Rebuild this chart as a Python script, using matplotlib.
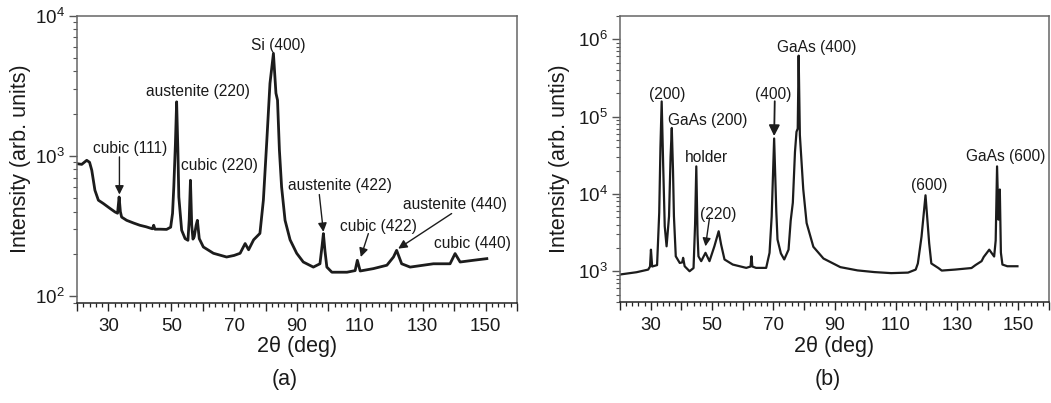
import matplotlib
matplotlib.use("Agg")
import matplotlib.pyplot as plt
from matplotlib.ticker import MultipleLocator, FixedLocator, FuncFormatter, LogLocator

plt.rcParams['font.family'] = ['Liberation Sans', 'DejaVu Sans']
plt.rcParams['mathtext.default'] = 'regular'

# ---------------- data: panel (a) ----------------
theta_a = [20.0, 21.5, 23.1, 24.0, 24.7, 25.7, 26.8, 28.4, 30.5, 32.1, 32.9, 33.4, 33.8, 34.2,
           35.8, 38.0, 40.0, 42.0, 44.0, 44.4, 44.8, 46.5, 48.5, 49.8, 50.4, 50.8, 51.3, 51.7,
           52.1, 52.4, 53.3, 54.4, 55.3, 55.7, 56.1, 56.5, 56.9, 57.3, 57.9, 58.3, 58.9, 60.2,
           63.4, 67.6, 70.0, 71.9, 73.5, 74.6, 76.2, 78.2, 79.3, 80.4, 81.4, 82.5, 83.3, 83.8,
           84.4, 85.1, 86.2, 87.8, 89.9, 92.0, 95.2, 97.3, 98.0, 98.4, 98.9, 99.5, 101.1, 105.9,
           108.5, 109.2, 110.1, 114.3, 118.6, 120.7, 121.7, 123.3, 126.0, 133.4, 138.7, 140.3,
           141.9, 146.1, 150.4]
intensity_a = [880, 870, 930, 900, 790, 569, 483, 457, 422, 398, 390, 509, 400, 366,
               347, 332, 320, 312, 302, 320, 300, 300, 299, 310, 389, 601, 1200, 2430,
               1100, 509, 295, 257, 250, 350, 670, 320, 255, 265, 320, 347, 257, 224,
               202, 190, 195, 202, 237, 214, 252, 280, 483, 1290, 3290, 5380, 2800, 2500,
               1100, 600, 347, 252, 202, 175, 161, 170, 230, 279, 210, 161, 148, 148,
               152, 180, 151, 157, 166, 190, 212, 170, 161, 170, 170, 201,
               175, 180, 185]

labels_a = ["cubic (111)", "austenite (220)", "cubic (220)", "Si (400)",
            "austenite (422)", "cubic (422)", "austenite (440)", "cubic (440)"]
label_pos_a = [(36.9, 1130), (58.4, 2870), (65.2, 849), (84.0, 6170),
               (103.7, 617), (115.9, 316), (140.3, 450), (145.8, 237)]
# arrows: (label index, start, tip)
arrows_a = [(0, (33.5, 984), (33.5, 530)),
            (4, (97.1, 530), (98.4, 287)),
            (5, (112.7, 279), (110.3, 190)),
            (6, (139.2, 388), (122.2, 218))]

# ---------------- data: panel (b) ----------------
theta_b = [20.0, 25.4, 29.2, 29.8, 30.1, 30.5, 30.8, 32.1, 32.8, 33.2, 33.6, 34.1, 34.6, 35.2,
           36.0, 36.5, 36.9, 37.3, 37.6, 38.2, 39.5, 40.3, 40.6, 41.1, 42.7, 44.0, 44.5, 44.9,
           45.3, 45.6, 46.5, 47.9, 49.2, 50.8, 52.2, 53.0, 54.1, 56.8, 61.2, 62.6, 62.9, 63.2,
           64.4, 67.7, 68.8, 69.5, 70.3, 71.0, 71.4, 72.5, 73.6, 75.0, 75.7, 76.4, 77.1, 77.6,
           78.0, 78.3, 78.7, 79.8, 80.9, 83.1, 86.4, 91.9, 97.5, 103.0, 108.5, 114.0, 116.5,
           117.2, 118.4, 119.7, 120.9, 121.6, 123.9, 125.0, 129.3, 134.7, 136.0, 138.0, 138.7,
           140.5, 142.1, 142.6, 143.05, 143.5, 143.95, 144.3, 144.8, 146.4, 149.7]
intensity_b = [907, 971, 1050, 1150, 1900, 1150, 1160, 1200, 5730, 40000, 157000, 22700, 3810, 2100,
               5130, 30000, 71300, 20000, 5130, 1560, 1280, 1300, 1490, 1160, 1000, 1100, 4000, 22700,
               3000, 1560, 1350, 1730, 1350, 2100, 3290, 2210, 1420, 1220, 1105, 1150, 1560, 1150,
               1105, 1105, 1730, 5130, 52100, 6000, 2570, 1700, 1420, 1900, 4500, 7700, 34800, 63600,
               70000, 614000, 57600, 11500, 4200, 2070, 1460, 1130, 1025, 975, 945, 960, 1050,
               1260, 2800, 9600, 2290, 1260, 1100, 1020, 1050, 1100, 1200, 1350, 1530,
               1900, 1550, 2500, 22700, 4650, 11400, 1740, 1220, 1160, 1160]

labels_b = ["(200)", "GaAs (200)", "holder", "(220)", "(400)", "GaAs (400)", "(600)", "GaAs (600)"]
label_pos_b = [(35.4, 193000), (48.5, 88700), (48.3, 29400), (52.1, 5490),
               (70.0, 193000), (84.3, 790000), (120.8, 12900), (145.8, 30700)]
arrows_b = [(3, (49.2, 4900), (47.9, 2100)),
            (4, (70.5, 158000), (70.3, 56000))]

# ---------------- figure ----------------
W, H = 1051, 403
fig = plt.figure(figsize=(W / 100, H / 100), dpi=100)
ax_a = fig.add_axes([77 / W, 1 - 302.5 / H, 440 / W, 286.8 / H])
ax_b = fig.add_axes([620 / W, 1 - 302.0 / H, 429 / W, 286.0 / H])

txt = '#1a1a1a'
line_c = '#1c1c1c'


def style(ax, ylim, ylabel):
    ax.set_xlim(20, 160)
    ax.set_yscale('log')
    ax.set_ylim(*ylim)
    ax.xaxis.set_major_locator(FixedLocator(list(range(20, 161, 10))))
    ax.xaxis.set_minor_locator(MultipleLocator(2))
    ax.xaxis.set_major_formatter(FuncFormatter(lambda v, p: f"{int(round(v))}" if int(round(v)) % 20 == 10 else ""))
    ax.yaxis.set_major_locator(LogLocator(base=10, numticks=10))
    ax.yaxis.set_minor_locator(LogLocator(base=10, subs=range(2, 10), numticks=20))
    ax.tick_params(axis='x', which='major', direction='out', length=6, width=1.0,
                   labelsize=13.5, pad=5, colors='#222222', labelcolor=txt)
    ax.tick_params(axis='x', which='minor', direction='out', length=3, width=0.9, colors='#222222')
    ax.tick_params(axis='y', which='major', direction='out', length=6, width=1.0,
                   labelsize=13.5, pad=3, colors='#555555', labelcolor=txt)
    ax.tick_params(axis='y', which='minor', direction='out', length=3, width=0.8, colors='#555555')
    for s in ['left', 'top', 'right']:
        ax.spines[s].set_color('#666666')
        ax.spines[s].set_linewidth(1.1)
    ax.spines['bottom'].set_color('#222222')
    ax.spines['bottom'].set_linewidth(1.1)
    ax.set_xlabel('2θ (deg)', fontsize=15.5, color=txt)
    ax.set_ylabel(ylabel, fontsize=15.5, color=txt)
    ax.xaxis.set_label_coords(0.5, -0.118)


style(ax_a, (90, 1e4), 'Intensity (arb. units)')
style(ax_b, (400, 2e6), 'Intensity (arb. untis)')
ax_a.yaxis.set_label_coords(-0.105, 0.5)
ax_b.yaxis.set_label_coords(-0.117, 0.5)

ax_a.plot(theta_a, intensity_a, color=line_c, lw=2.0, solid_joinstyle='round')
ax_b.plot(theta_b, intensity_b, color=line_c, lw=1.6, solid_joinstyle='round')

for lab, (x, y) in zip(labels_a, label_pos_a):
    ax_a.text(x, y, lab, ha='center', va='center', fontsize=11.2, color=txt)
for lab, (x, y) in zip(labels_b, label_pos_b):
    ax_b.text(x, y, lab, ha='center', va='center', fontsize=11.2, color=txt)

for _, start, tip in arrows_a:
    ax_a.annotate('', xy=tip, xytext=start,
                  arrowprops=dict(arrowstyle='-|>', color=line_c, lw=1.0,
                                  mutation_scale=13, shrinkA=0, shrinkB=0))
for i, start, tip in arrows_b:
    ax_b.annotate('', xy=tip, xytext=start,
                  arrowprops=dict(arrowstyle='-|>', color=line_c, lw=1.3 if i == 4 else 1.0,
                                  mutation_scale=16 if i == 4 else 12, shrinkA=0, shrinkB=0))

fig.text(285 / W, 1 - 380 / H, '(a)', ha='center', va='center', fontsize=15.5, color=txt)
fig.text(828 / W, 1 - 380 / H, '(b)', ha='center', va='center', fontsize=15.5, color=txt)

fig.savefig('out.png', dpi=100)
